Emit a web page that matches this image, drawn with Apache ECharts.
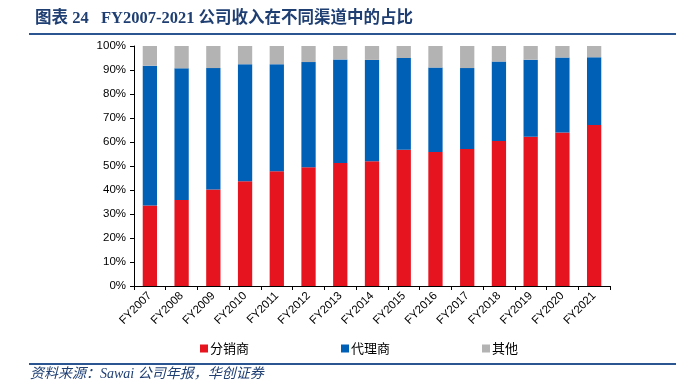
<!DOCTYPE html>
<html>
<head>
<meta charset="utf-8">
<script src="https://cdn.jsdelivr.net/npm/echarts@6/dist/echarts.min.js"></script>
<style>html,body{margin:0;padding:0;background:#fff;}#c{width:685px;height:381px;}</style>
</head>
<body>
<div id="c"></div>
<script>
const categories = ['FY2007','FY2008','FY2009','FY2010','FY2011','FY2012','FY2013','FY2014','FY2015','FY2016','FY2017','FY2018','FY2019','FY2020','FY2021'];
const distributor = [33.5,35.8,40.2,43.6,47.8,49.5,51.3,52.0,56.8,55.8,57.1,60.4,62.2,64.0,67.1];
const agent = [58.3,54.9,50.6,48.8,44.6,43.8,43.1,42.2,38.2,35.2,33.7,33.1,32.1,31.2,28.2];
const other = [8.2,9.3,9.2,7.6,7.6,6.7,5.6,5.8,5.0,9.0,9.2,6.5,5.7,4.8,4.7];
const yTicks = [0,10,20,30,40,50,60,70,80,90,100];
const names = ['分销商','代理商','其他'];
const colors = ['#E5141E','#0060B6','#B3B3B3'];

const chart = echarts.init(document.getElementById('c'));
const lab = {fontFamily:'Liberation Sans, Arial, sans-serif', fontSize:11.5, color:'#000'};
chart.setOption({
  animation:false,
  title:{
    text:'图表 24   FY2007-2021 公司收入在不同渠道中的占比',
    left:30, top:5,
    textStyle:{fontFamily:'Liberation Serif, "Noto Sans CJK SC", serif', fontWeight:'bold', fontSize:16.5, color:'#1F3F73'}
  },
  graphic:[
    {type:'line', shape:{x1:29,y1:34,x2:676,y2:34}, style:{stroke:'#2B5590', lineWidth:2}},
    {type:'line', shape:{x1:29,y1:364,x2:676,y2:364}, style:{stroke:'#2B5590', lineWidth:2}},
    {type:'text', left:30, top:367, style:{text:'资料来源：Sawai 公司年报，华创证券', font:'italic 14px "Liberation Serif", "Noto Sans CJK SC", serif', fill:'#1F3F73'}}
  ],
  legend:{
    data:names, left:195, top:337, itemWidth:8, itemHeight:8, itemGap:92,
    icon:'rect',
    textStyle:{fontFamily:'"Noto Sans CJK SC", sans-serif', fontSize:13, color:'#000', padding:[0,0,0,-3]}
  },
  grid:{left:134, right:75, top:46, bottom:95},
  xAxis:{
    type:'category', data:categories,
    axisLine:{lineStyle:{color:'#000', width:1}},
    axisTick:{show:true, length:4, lineStyle:{color:'#000'}},
    axisLabel:Object.assign({rotate:45, margin:8, interval:0}, lab)
  },
  yAxis:{
    type:'value', min:0, max:100, interval:10,
    axisLine:{show:true, lineStyle:{color:'#000', width:1}},
    axisTick:{show:true, length:4, lineStyle:{color:'#000'}},
    splitLine:{show:false},
    axisLabel:Object.assign({margin:8, formatter:v=>v+'%'}, lab)
  },
  series:[distributor, agent, other].map((d,i)=>({
    name:names[i], type:'bar', stack:'a', data:d, barWidth:'45%',
    itemStyle:{color:colors[i]}
  }))
});
</script>
</body>
</html>
